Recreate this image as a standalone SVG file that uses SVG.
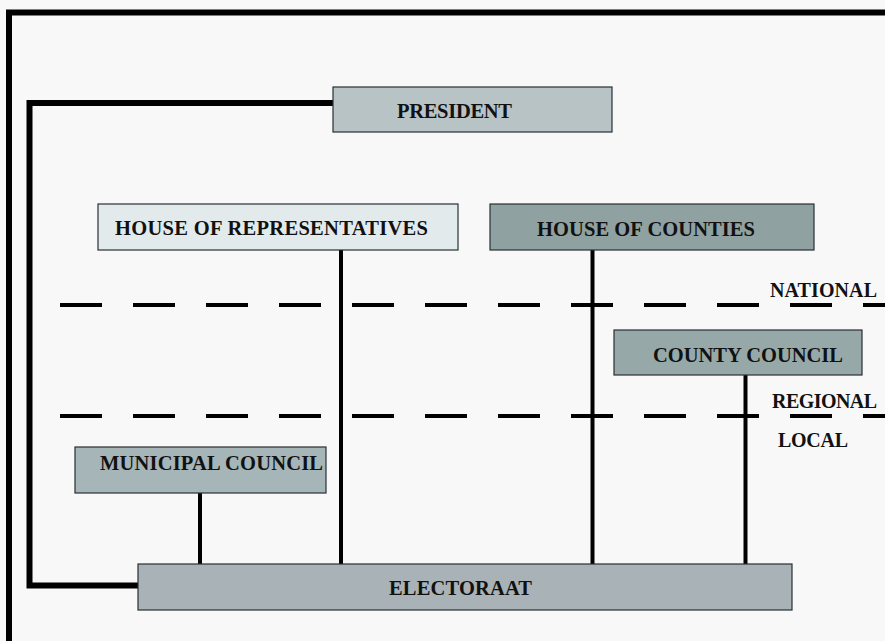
<svg xmlns="http://www.w3.org/2000/svg" width="885" height="641" viewBox="0 0 885 641">
<style>
.box{stroke:#2a2f33;stroke-width:1.2}
.lbl{font-family:"Liberation Serif","Times New Roman",serif;font-weight:bold;font-size:20.5px;fill:#111}
.lvl{font-family:"Liberation Serif","Times New Roman",serif;font-weight:bold;font-size:20px;fill:#111}
.ln{stroke:#000;fill:none}
</style>
<rect x="0" y="0" width="885" height="641" fill="#f8f8f8"/>
<g id="frame">
<path class="ln" d="M9,641 V12.5 H885" stroke-width="6"/>
</g>
<g id="connectors">
<path class="ln" d="M333,103 H29.5 V585.5 H138" stroke-width="6"/>
<line class="ln" x1="341" y1="250" x2="341" y2="564" stroke-width="4"/>
<line class="ln" x1="592.5" y1="250" x2="592.5" y2="564" stroke-width="4"/>
<line class="ln" x1="745.5" y1="375" x2="745.5" y2="564" stroke-width="4"/>
<line class="ln" x1="200" y1="493" x2="200" y2="564" stroke-width="4"/>
<line class="ln" x1="60" y1="305" x2="885" y2="305" stroke-width="4" stroke-dasharray="42 31"/>
<line class="ln" x1="60" y1="416" x2="885" y2="416" stroke-width="4" stroke-dasharray="42 31"/>
</g>
<g id="president">
<rect class="box" x="333" y="87" width="279" height="45" fill="#b8c3c6"/>
<text class="lbl" x="397" y="118" textLength="115">PRESIDENT</text>
</g>
<g id="house-of-representatives">
<rect class="box" x="98" y="204" width="360" height="46" fill="#e2eaec"/>
<text class="lbl" x="115" y="235" textLength="313">HOUSE OF REPRESENTATIVES</text>
</g>
<g id="house-of-counties">
<rect class="box" x="490" y="204" width="324" height="46" fill="#8fa1a1"/>
<text class="lbl" x="537" y="236" textLength="218">HOUSE OF COUNTIES</text>
</g>
<g id="county-council">
<rect class="box" x="614" y="330" width="248" height="45" fill="#96a9a8"/>
<text class="lbl" x="653" y="362" textLength="190">COUNTY COUNCIL</text>
</g>
<g id="municipal-council">
<rect class="box" x="75" y="447" width="251" height="46" fill="#a6b5b8"/>
<text class="lbl" x="100" y="470" textLength="223">MUNICIPAL COUNCIL</text>
</g>
<g id="electoraat">
<rect class="box" x="138" y="564" width="654" height="46" fill="#a9b2b6"/>
<text class="lbl" x="389" y="595" textLength="143">ELECTORAAT</text>
</g>
<g id="levels">
<text class="lvl" x="770" y="297" textLength="107">NATIONAL</text>
<text class="lvl" x="772" y="408" textLength="105">REGIONAL</text>
<text class="lvl" x="778" y="447" textLength="70">LOCAL</text>
</g>
</svg>
